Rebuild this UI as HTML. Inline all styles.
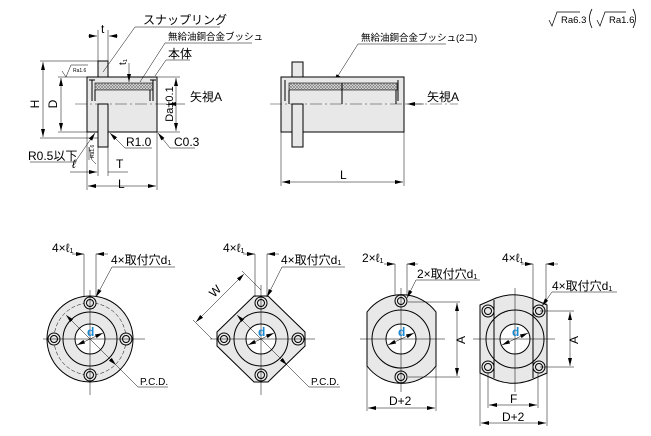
<!DOCTYPE html>
<html><head><meta charset="utf-8"><style>
html,body{margin:0;padding:0;background:#fff;width:651px;height:436px;overflow:hidden}
svg text{font-family:"Liberation Sans","Noto Sans CJK JP",sans-serif;fill:#000}
</style></head><body>
<svg width="651" height="436" viewBox="0 0 651 436" xmlns="http://www.w3.org/2000/svg">
<defs>
<pattern id="hx" width="3" height="3" patternUnits="userSpaceOnUse"><rect width="3" height="3" fill="#ddd"/><path d="M0 0L3 3M3 0L0 3" stroke="#777" stroke-width="0.6"/></pattern>
<marker id="a" markerWidth="8" markerHeight="6" refX="8" refY="3" orient="auto-start-reverse" markerUnits="userSpaceOnUse"><path d="M0 1L8 3L0 5z" fill="#000"/></marker>
</defs>
<g stroke="#000" stroke-width="1" fill="none">
<!-- left side view -->
<rect x="87" y="77" width="70" height="55" fill="#e8e8e8"/>
<rect x="98" y="61" width="10" height="16" fill="#e8e8e8"/>
<rect x="98" y="104" width="10" height="43" fill="#e8e8e8"/>
<rect x="95" y="83" width="58" height="7" fill="url(#hx)" stroke-width="0.6"/>
<line x1="92" y1="80" x2="92" y2="101"/><line x1="153" y1="80" x2="153" y2="101"/>
<line x1="89" y1="80" x2="95" y2="80"/><line x1="150" y1="80" x2="156" y2="80"/>
<line x1="95" y1="90" x2="95" y2="101"/><line x1="150" y1="90" x2="150" y2="101"/>
<line x1="75" y1="104" x2="168" y2="104" stroke-width="0.4" stroke-dasharray="12 3 2 3"/>
<g stroke-width="0.5">
<line x1="40" y1="61" x2="98" y2="61"/><line x1="40" y1="138" x2="98" y2="138"/>
<line x1="43" y1="62" x2="43" y2="137" marker-start="url(#a)" marker-end="url(#a)"/>
<line x1="58" y1="77" x2="87" y2="77"/><line x1="58" y1="132" x2="87" y2="132"/>
<line x1="61" y1="78" x2="61" y2="131" marker-start="url(#a)" marker-end="url(#a)"/>
<line x1="157" y1="77" x2="180" y2="77"/><line x1="157" y1="132" x2="180" y2="132"/>
<line x1="176" y1="78" x2="176" y2="131" marker-start="url(#a)" marker-end="url(#a)"/>
<line x1="87" y1="132" x2="87" y2="190"/><line x1="157" y1="132" x2="157" y2="190"/>
<line x1="88" y1="186" x2="156" y2="186" marker-start="url(#a)" marker-end="url(#a)"/>
<line x1="98" y1="147" x2="98" y2="176"/><line x1="108" y1="147" x2="108" y2="176"/>
<line x1="70" y1="172" x2="97" y2="172" marker-end="url(#a)"/><line x1="108" y1="172" x2="128" y2="172"/>
<line x1="98" y1="30" x2="98" y2="61"/><line x1="108" y1="30" x2="108" y2="61"/>
<line x1="88" y1="36" x2="97" y2="36" marker-end="url(#a)"/><line x1="118" y1="36" x2="109" y2="36" marker-end="url(#a)"/>
<line x1="129" y1="63" x2="129" y2="82" marker-end="url(#a)"/>
<line x1="135" y1="27" x2="220" y2="27"/><line x1="135" y1="27" x2="103" y2="72"/>
<line x1="165" y1="43" x2="252" y2="43"/><line x1="165" y1="43" x2="140" y2="82"/>
<line x1="166" y1="60" x2="190" y2="60"/><line x1="166" y1="60" x2="155" y2="76"/>
<line x1="185" y1="104" x2="168" y2="104" marker-end="url(#a)"/>
<line x1="125" y1="148" x2="152" y2="148"/><line x1="125" y1="148" x2="110" y2="133" marker-end="url(#a)"/>
<line x1="170" y1="148" x2="195" y2="148"/><line x1="170" y1="148" x2="158" y2="133" marker-end="url(#a)"/>
<line x1="30" y1="162" x2="75" y2="162"/><line x1="75" y1="162" x2="95" y2="133" marker-end="url(#a)"/>
<path d="M62 71L66 77L71 65L88 65"/>
<path d="M96 164L92 160L89 147"/><line x1="89" y1="147" x2="89" y2="160"/>
<!-- right view -->
<line x1="281" y1="132" x2="281" y2="186"/><line x1="404" y1="132" x2="404" y2="186"/>
<line x1="282" y1="182" x2="403" y2="182" marker-start="url(#a)" marker-end="url(#a)"/>
<line x1="358" y1="44" x2="446" y2="44"/><line x1="358" y1="44" x2="334" y2="82" marker-end="url(#a)"/>
<line x1="424" y1="104" x2="407" y2="104" marker-end="url(#a)"/>
</g>
<rect x="281" y="77" width="123" height="55" fill="#e8e8e8"/>
<rect x="292" y="62" width="11" height="15" fill="#e8e8e8"/>
<rect x="292" y="104" width="11" height="43" fill="#e8e8e8"/>
<rect x="289" y="83" width="108" height="7" fill="url(#hx)" stroke-width="0.6"/>
<line x1="285" y1="80" x2="285" y2="101"/><line x1="398" y1="80" x2="398" y2="101"/>
<line x1="289" y1="90" x2="289" y2="104"/><line x1="396" y1="90" x2="396" y2="104"/>
<line x1="342" y1="83" x2="342" y2="104"/>
<line x1="270" y1="104" x2="458" y2="104" stroke-width="0.4" stroke-dasharray="12 3 2 3"/>
<path d="M549 20L552 26L557 12L580 12" stroke-width="0.7"/>
<path d="M597 20L600 26L605 12L626 12" stroke-width="0.7"/>
<path d="M592 9Q587 18 592 28M633 9Q638 18 633 28" stroke-width="0.8"/>

<circle cx="90" cy="339" r="43" fill="#e8e8e8"/>
<circle cx="90" cy="339" r="36" stroke-dasharray="4 2" stroke-width="0.5"/>
<circle cx="90" cy="339" r="27"/>
<circle cx="90" cy="339" r="15" fill="#fff"/>
<g fill="#e8e8e8"><circle cx="90" cy="303" r="6"/><circle cx="54" cy="339" r="6"/><circle cx="126" cy="339" r="6"/><circle cx="90" cy="375" r="6"/></g>
<g><circle cx="90" cy="303" r="3.5"/><circle cx="54" cy="339" r="3.5"/><circle cx="126" cy="339" r="3.5"/><circle cx="90" cy="375" r="3.5"/></g>
<polygon points="254,296 268,296 305,332 305,346 268,382 254,382 217,346 217,332" fill="#e8e8e8"/>
<circle cx="261" cy="339" r="27"/>
<circle cx="261" cy="339" r="15" fill="#fff"/>
<g fill="#e8e8e8"><circle cx="261" cy="303" r="6"/><circle cx="224" cy="339" r="6"/><circle cx="298" cy="339" r="6"/><circle cx="261" cy="375" r="6"/></g>
<g><circle cx="261" cy="303" r="3.5"/><circle cx="224" cy="339" r="3.5"/><circle cx="298" cy="339" r="3.5"/><circle cx="261" cy="375" r="3.5"/></g>
<path d="M367 312A43 43 0 0 1 436 312L436 366A43 43 0 0 1 367 366Z" fill="#e8e8e8"/>
<circle cx="401" cy="339" r="29"/>
<circle cx="401" cy="339" r="15" fill="#fff"/>
<g fill="#e8e8e8"><circle cx="401" cy="301" r="6"/><circle cx="401" cy="377" r="6"/></g>
<circle cx="401" cy="301" r="3.5"/><circle cx="401" cy="377" r="3.5"/>
<path d="M480 305L496 298A50 50 0 0 1 531 298L547 305L547 373L531 380A50 50 0 0 1 496 380L480 373Z" fill="#e8e8e8"/>
<line x1="494" y1="300" x2="494" y2="378"/><line x1="533" y1="300" x2="533" y2="378"/>
<circle cx="515" cy="339" r="29"/>
<circle cx="515" cy="339" r="15" fill="#fff"/>
<g fill="#e8e8e8"><circle cx="488" cy="311" r="6"/><circle cx="539" cy="311" r="6"/><circle cx="488" cy="367" r="6"/><circle cx="539" cy="367" r="6"/></g>
<g><circle cx="488" cy="311" r="3.5"/><circle cx="539" cy="311" r="3.5"/><circle cx="488" cy="367" r="3.5"/><circle cx="539" cy="367" r="3.5"/></g>

<g stroke-width="0.5">
<line x1="43" y1="339" x2="145" y2="339"/><line x1="90" y1="290" x2="90" y2="395"/>
<line x1="210" y1="339" x2="315" y2="339"/><line x1="261" y1="285" x2="261" y2="395"/>
<line x1="360" y1="339" x2="445" y2="339"/><line x1="401" y1="288" x2="401" y2="392"/>
<line x1="473" y1="339" x2="555" y2="339"/><line x1="515" y1="288" x2="515" y2="392"/>
<line x1="77" y1="345" x2="103" y2="333" marker-start="url(#a)" marker-end="url(#a)"/>
<line x1="248" y1="345" x2="274" y2="333" marker-start="url(#a)" marker-end="url(#a)"/>
<line x1="388" y1="345" x2="414" y2="333" marker-start="url(#a)" marker-end="url(#a)"/>
<line x1="502" y1="345" x2="528" y2="333" marker-start="url(#a)" marker-end="url(#a)"/>
<line x1="66" y1="315" x2="116" y2="365" marker-start="url(#a)" marker-end="url(#a)"/>
<line x1="116" y1="365" x2="138" y2="387"/><line x1="138" y1="387" x2="168" y2="387"/>
<line x1="237" y1="315" x2="287" y2="365" marker-start="url(#a)" marker-end="url(#a)"/>
<line x1="287" y1="365" x2="309" y2="387"/><line x1="309" y1="387" x2="340" y2="387"/>
<line x1="84" y1="254" x2="84" y2="297"/><line x1="96" y1="254" x2="96" y2="297"/>
<line x1="72" y1="254" x2="84" y2="254" marker-end="url(#a)"/><line x1="108" y1="254" x2="96" y2="254" marker-end="url(#a)"/>
<line x1="112" y1="267" x2="175" y2="267"/><line x1="112" y1="267" x2="96" y2="297" marker-end="url(#a)"/>
<line x1="255" y1="254" x2="255" y2="297"/><line x1="267" y1="254" x2="267" y2="297"/>
<line x1="243" y1="254" x2="255" y2="254" marker-end="url(#a)"/><line x1="279" y1="254" x2="267" y2="254" marker-end="url(#a)"/>
<line x1="282" y1="267" x2="345" y2="267"/><line x1="282" y1="267" x2="267" y2="297" marker-end="url(#a)"/>
<line x1="193" y1="320" x2="212" y2="339"/><line x1="242" y1="271" x2="261" y2="290"/>
<line x1="196" y1="322" x2="244" y2="274" marker-start="url(#a)" marker-end="url(#a)"/>
<line x1="395" y1="264" x2="395" y2="295"/><line x1="407" y1="264" x2="407" y2="295"/>
<line x1="384" y1="264" x2="395" y2="264" marker-end="url(#a)"/><line x1="418" y1="264" x2="407" y2="264" marker-end="url(#a)"/>
<line x1="416" y1="280" x2="480" y2="280"/><line x1="416" y1="280" x2="407" y2="298" marker-end="url(#a)"/>
<line x1="408" y1="302" x2="460" y2="302"/><line x1="408" y1="377" x2="460" y2="377"/>
<line x1="457" y1="303" x2="457" y2="376" marker-start="url(#a)" marker-end="url(#a)"/>
<line x1="367" y1="366" x2="367" y2="411"/><line x1="436" y1="366" x2="436" y2="411"/>
<line x1="368" y1="408" x2="435" y2="408" marker-start="url(#a)" marker-end="url(#a)"/>
<line x1="533" y1="264" x2="533" y2="305"/><line x1="546" y1="264" x2="546" y2="305"/>
<line x1="521" y1="264" x2="533" y2="264" marker-end="url(#a)"/><line x1="558" y1="264" x2="546" y2="264" marker-end="url(#a)"/>
<line x1="552" y1="292" x2="617" y2="292"/><line x1="552" y1="292" x2="542" y2="306" marker-end="url(#a)"/>
<line x1="540" y1="311" x2="574" y2="311"/><line x1="540" y1="367" x2="574" y2="367"/>
<line x1="570" y1="312" x2="570" y2="366" marker-start="url(#a)" marker-end="url(#a)"/>
<line x1="480" y1="366" x2="480" y2="426"/><line x1="547" y1="366" x2="547" y2="426"/>
<line x1="488" y1="372" x2="488" y2="408"/><line x1="538" y1="372" x2="538" y2="408"/>
<line x1="489" y1="405" x2="537" y2="405" marker-start="url(#a)" marker-end="url(#a)"/>
<line x1="481" y1="423" x2="546" y2="423" marker-start="url(#a)" marker-end="url(#a)"/>
</g>
</g>
<g font-size="12">
<text x="143" y="24">スナップリング</text>
<text x="168" y="40" font-size="9.5">無給油銅合金ブッシュ</text>
<text x="168" y="58">本体</text>
<text x="190" y="101">矢視A</text>
<text x="101" y="33">t</text>
<text x="126" y="146">R1.0</text>
<text x="174" y="146">C0.3</text>
<text x="28" y="160">R0.5以下</text>
<text x="72" y="168" font-style="italic">ℓ</text>
<text x="116" y="168">T</text>
<text x="118" y="188">L</text>
<text x="340" y="179">L</text>
<text x="361" y="41" font-size="9.5">無給油銅合金ブッシュ(2コ)</text>
<text x="427" y="101">矢視A</text>
<text x="561" y="23" font-size="9.5">Ra6.3</text>
<text x="609" y="23" font-size="9.5">Ra1.6</text>
<text x="73" y="72" font-size="5">Ra1.6</text>
<text transform="translate(94,158) rotate(-90)" font-size="5">Ra1.6</text>
<text transform="translate(39,104) rotate(-90)" text-anchor="middle">H</text>
<text transform="translate(57,104) rotate(-90)" text-anchor="middle">D</text>
<text transform="translate(173,104) rotate(-90)" text-anchor="middle" font-size="11">Da±0.1</text>
<text transform="translate(126,65) rotate(-90)" font-size="10">t₁</text>
<text x="52" y="252">4×ℓ₁</text>
<text x="111" y="264">4×取付穴d₁</text>
<text x="140" y="385" font-size="10">P.C.D.</text>
<text x="223" y="252">4×ℓ₁</text>
<text x="281" y="264">4×取付穴d₁</text>
<text x="311" y="385" font-size="10">P.C.D.</text>
<text transform="translate(214,298) rotate(-45)">W</text>
<text x="362" y="262">2×ℓ₁</text>
<text x="417" y="278">2×取付穴d₁</text>
<text x="502" y="262">4×ℓ₁</text>
<text x="552" y="290">4×取付穴d₁</text>
<text x="389" y="405">D+2</text>
<text x="502" y="421">D+2</text>
<text x="510" y="403">F</text>
<text transform="translate(465,340) rotate(-90)" text-anchor="middle">A</text>
<text transform="translate(578,340) rotate(-90)" text-anchor="middle">A</text>
<text x="87" y="336" font-weight="bold" style="fill:#1a8ad4">d</text>
<text x="258" y="336" font-weight="bold" style="fill:#1a8ad4">d</text>
<text x="398" y="336" font-weight="bold" style="fill:#1a8ad4">d</text>
<text x="512" y="336" font-weight="bold" style="fill:#1a8ad4">d</text>
</g>
</svg>
</body></html>
